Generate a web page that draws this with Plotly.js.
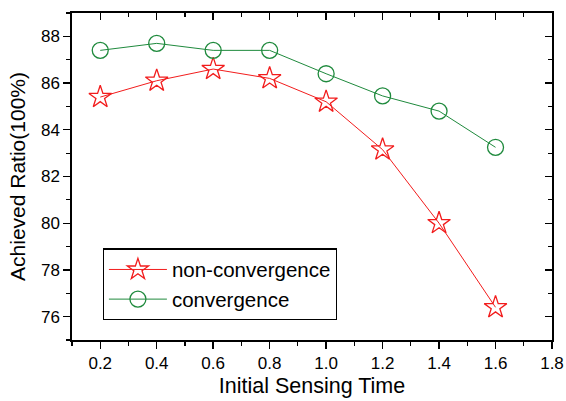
<!DOCTYPE html>
<html><head><meta charset="utf-8">
<script src="https://cdn.plot.ly/plotly-3.0.1.min.js"></script>
<style>html,body{margin:0;padding:0;background:#fff}#c{width:566px;height:401px}</style>
</head><body><div id="c"></div>
<script>
const sensingTime = [0.2, 0.4, 0.6, 0.8, 1.0, 1.2, 1.4, 1.6];
const nonConvergence = [85.4, 86.1, 86.6, 86.2, 85.2, 83.15, 80.0, 76.4];
const convergence = [87.4, 87.7, 87.4, 87.4, 86.4, 85.45, 84.8, 83.25];
const xTicks = [0.2, 0.4, 0.6, 0.8, 1.0, 1.2, 1.4, 1.6, 1.8];
const xTickLabels = ['0.2', '0.4', '0.6', '0.8', '1.0', '1.2', '1.4', '1.6', '1.8'];
const yTicks = [76, 78, 80, 82, 84, 86, 88];

const red = '#f21c1c', green = '#1f8a3d';
const font = {family: 'Arial, Liberation Sans, sans-serif', color: '#000'};

const traces = [
  {x: sensingTime, y: nonConvergence, name: 'non-convergence', mode: 'lines+markers',
   line: {color: red, width: 1}, marker: {symbol: 'star-open', size: 17, color: red, line: {width: 1.3, color: red}}},
  {x: sensingTime, y: convergence, name: 'convergence', mode: 'lines+markers',
   line: {color: green, width: 1}, marker: {symbol: 'circle-open', size: 16, color: green, line: {width: 1.3, color: green}}},
  {x: sensingTime, y: convergence, xaxis: 'x2', yaxis: 'y2', mode: 'markers', showlegend: false,
   hoverinfo: 'skip', marker: {opacity: 0}}
];

const axCommon = {showgrid: false, zeroline: false, linecolor: '#000', linewidth: 1.6,
  tickcolor: '#000', tickwidth: 1.4, ticklen: 7, tickfont: Object.assign({size: 17}, font)};

const layout = {
  width: 566, height: 401,
  margin: {l: 72, r: 14, t: 13, b: 61},
  paper_bgcolor: '#fff', plot_bgcolor: '#fff',
  showlegend: true,
  legend: {x: 0.064, y: 0.28, xanchor: 'left', yanchor: 'top', bgcolor: '#fff',
    bordercolor: '#000', borderwidth: 1.2, font: Object.assign({size: 20.5}, font),
    itemwidth: 58, tracegroupgap: 0},
  xaxis: Object.assign({}, axCommon, {range: [0.1, 1.8], tickvals: xTicks, ticktext: xTickLabels,
    ticks: 'outside', minor: {dtick: 0.1, tick0: 0.1, ticks: 'outside', ticklen: 4, tickcolor: '#000', tickwidth: 1.2},
    title: {text: 'Initial Sensing Time', font: Object.assign({size: 21.5}, font), standoff: 6}}),
  yaxis: Object.assign({}, axCommon, {range: [75, 89], tickvals: yTicks,
    ticks: 'outside', minor: {dtick: 1, tick0: 75, ticks: 'outside', ticklen: 4, tickcolor: '#000', tickwidth: 1.2},
    title: {text: 'Achieved Ratio(100%)', font: Object.assign({size: 21}, font), standoff: 10}}),
  xaxis2: Object.assign({}, axCommon, {overlaying: 'x', side: 'top', range: [0.1, 1.8], tickvals: xTicks,
    ticks: 'inside', showticklabels: false, anchor: 'y2',
    minor: {dtick: 0.1, tick0: 0.1, ticks: 'inside', ticklen: 4, tickcolor: '#000', tickwidth: 1.2}}),
  yaxis2: Object.assign({}, axCommon, {overlaying: 'y', side: 'right', range: [75, 89], tickvals: yTicks,
    ticks: 'inside', showticklabels: false, anchor: 'x2',
    minor: {dtick: 1, tick0: 75, ticks: 'inside', ticklen: 4, tickcolor: '#000', tickwidth: 1.2}})
};

Plotly.newPlot('c', traces, layout, {staticPlot: true, displayModeBar: false});
</script></body></html>
